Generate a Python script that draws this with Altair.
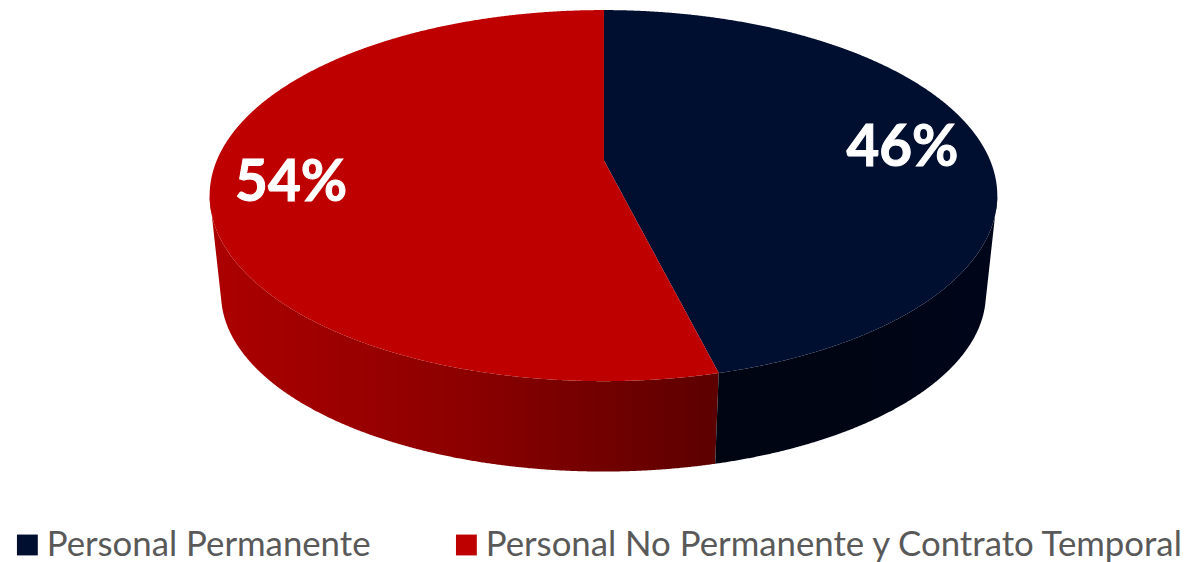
import numpy as np
import pandas as pd
import altair as alt

# Content
names = ["Personal Permanente", "Personal No Permanente y Contrato Temporal"]
shares = [46, 54]
top_colors = ["#000f30", "#be0000"]
wall_stops = {
    "navy": ["#000512", "#000514", "#00061a"],
    "red": ["#ac0000", "#8c0000", "#5c0000"],
}
label_x = [908.5, 293]
label_y = [148, 183]

# In picture pixels
top_ellipse = [607.5, 195.0, 396.5, 186.8]   # cx, cy, rx, ry
base_ellipse = [607.5, 294.0, 385.0, 178.8]
apex = [608.0, 159.6]
split_top = [723.5, 373.5]
split_base = [720.0, 464.0]
W, H = 1188, 554

cx, cy, rx, ry = top_ellipse
bx, by, brx, bry = base_ellipse


def upper(x):
    return cy - ry * np.sqrt(np.clip(1 - ((x - cx) / rx) ** 2, 0, 1))


def lower(x):
    return cy + ry * np.sqrt(np.clip(1 - ((x - cx) / rx) ** 2, 0, 1))


def xs(a, b):
    t = np.linspace(np.pi, 0, 900)
    x = cx + rx * np.cos(t)
    x = x[(x > a) & (x < b)]
    return np.concatenate([[a], x, [b]])


ang = np.linspace(np.pi * 0.5, np.pi, 2000)
ex, ey = bx + brx * np.cos(ang), by + bry * np.sin(ang)
lx0, ly0 = cx - rx, cy
k = np.argmin((ex - lx0) / np.maximum(ey - ly0, 1e-6))
ltx, lty = ex[k], ey[k]
ex2 = 2 * bx - ex
k = np.argmax((ex2 - (cx + rx)) / np.maximum(ey - ly0, 1e-6))
rtx, rty = ex2[k], ey[k]


def base(x):
    x = np.asarray(x, dtype=float)
    y = by + bry * np.sqrt(np.clip(1 - ((x - bx) / brx) ** 2, 0, 1))
    y = np.where(x < ltx, cy + (x - lx0) / (ltx - lx0) * (lty - cy), y)
    y = np.where(x > rtx, cy + ((cx + rx) - x) / ((cx + rx) - rtx) * (rty - cy), y)
    return y


def split_line(x):
    return apex[1] + (x - apex[0]) / (split_top[0] - apex[0]) * (split_top[1] - apex[1])


def edge_line(x):
    return split_top[1] + (split_top[0] - x) / (split_top[0] - split_base[0]) * (split_base[1] - split_top[1])


def frame(series, x, y, y2):
    return pd.DataFrame({"serie": series, "x": x, "y": y, "y2": y2})


x_red_l = xs(cx - rx, apex[0])
x_red_r = xs(apex[0], split_top[0])
red_top = pd.concat([
    frame(names[1], x_red_l, upper(x_red_l), lower(x_red_l)),
    frame(names[1], x_red_r, split_line(x_red_r), lower(x_red_r)),
])
x_nav_l = xs(apex[0], split_top[0])
x_nav_r = xs(split_top[0], cx + rx)
nav_top = pd.concat([
    frame(names[0], x_nav_l, upper(x_nav_l), split_line(x_nav_l)),
    frame(names[0], x_nav_r, upper(x_nav_r), lower(x_nav_r)),
])
top_df = pd.concat([nav_top, red_top], ignore_index=True)

x1 = xs(cx - rx, split_base[0])
x2 = xs(split_base[0], split_top[0])
red_wall = pd.concat([
    frame("r", x1, lower(x1), base(x1)),
    frame("r", x2, lower(x2), edge_line(x2)),
], ignore_index=True)
x3 = xs(split_base[0], split_top[0])
x4 = xs(split_top[0], cx + rx)
nav_wall = pd.concat([
    frame("n", x3, edge_line(x3), base(x3)),
    frame("n", x4, lower(x4), base(x4)),
], ignore_index=True)

xs_scale = alt.Scale(domain=[8, 8 + W], range=[0, W], nice=False)
ys_scale = alt.Scale(domain=[8, 8 + H], range=[0, H], nice=False)
X = alt.X("x:Q", scale=xs_scale, axis=None)
Y = alt.Y("y:Q", scale=ys_scale, axis=None)
Y2 = alt.Y2("y2:Q")


def gradient(colors):
    stops = [alt.GradientStop(color=c, offset=o) for c, o in zip(colors, np.linspace(0, 1, len(colors)))]
    return alt.Gradient(gradient="linear", stops=stops, x1=0, x2=1, y1=0, y2=0)


red_layer = alt.Chart(red_wall).mark_area(orient="vertical", color=gradient(wall_stops["red"])).encode(
    x=X, y=Y, y2=Y2)
nav_layer = alt.Chart(nav_wall).mark_area(orient="vertical", color=gradient(wall_stops["navy"])).encode(
    x=X, y=Y, y2=Y2)

top_layer = alt.Chart(top_df).mark_area(orient="vertical").encode(
    x=X, y=Y, y2=Y2,
    color=alt.Color(
        "serie:N",
        scale=alt.Scale(domain=names, range=top_colors),
        legend=alt.Legend(
            orient="none", legendX=2, legendY=521, direction="horizontal", columns=2,
            columnPadding=78, title=None, symbolType="square", symbolSize=441,
            symbolStrokeWidth=0, labelFont="Lato", labelFontSize=35, labelColor="#595959",
            labelOffset=2, labelLimit=900, gridAlign="each",
        ),
    ),
)

labels = pd.DataFrame({"t": [f"{s}%" for s in shares], "x": label_x, "y": label_y})
text_layer = alt.Chart(labels).mark_text(
    font="Lato", fontWeight="bold", fontSize=57, color="white", stroke="white", strokeWidth=1,
    align="center", baseline="middle"
).encode(x=X, y=Y, text="t:N")

chart = alt.layer(red_layer, nav_layer, top_layer, text_layer).properties(
    width=W, height=H, padding=0, autosize=alt.AutoSizeParams(type="none")
).configure_view(stroke=None)

chart.save("out.html", embed_options={"renderer": "svg", "actions": False})
